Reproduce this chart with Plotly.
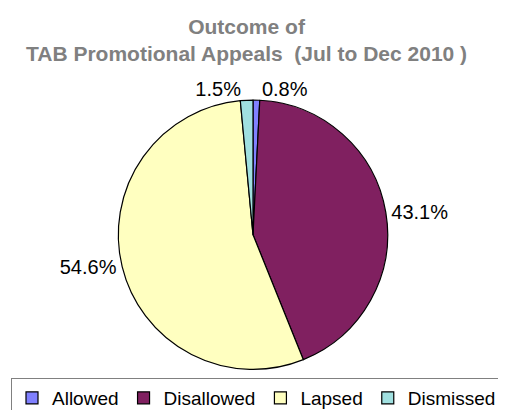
import plotly.graph_objects as go

labels = ["Allowed", "Disallowed", "Lapsed", "Dismissed"]
values = [0.8, 43.1, 54.6, 1.5]
colors = ["#8080FF", "#802060", "#FFFFC0", "#A0E0E0"]
title_lines = ["Outcome of", "TAB Promotional Appeals  (Jul to Dec 2010 )"]

W, H = 506, 410
cx, cy, r = 245, 229, 136
FONT = "Liberation Sans, Arial, sans-serif"

fig = go.Figure(go.Pie(
    labels=labels, values=values, sort=False, direction="clockwise", rotation=0,
    marker=dict(colors=colors, line=dict(color="black", width=1.2)),
    texttemplate="%{value:.1f}%", textposition="outside",
    textfont=dict(family=FONT, size=20, color="black"),
    domain=dict(x=[(cx - r) / W, (cx + r) / W], y=[(H - cy - r) / H, (H - cy + r) / H]),
    hoverinfo="label+percent",
))
fig.add_annotation(
    text="<b>" + "<br>".join(title_lines) + "</b>",
    xref="paper", yref="paper", x=238 / W, y=1 - 5 / H, xanchor="center", yanchor="top",
    showarrow=False, font=dict(family=FONT, size=21, color="#808080"),
)
fig.update_layout(
    width=W, height=H, margin=dict(l=0, r=0, t=0, b=0),
    paper_bgcolor="white", plot_bgcolor="white",
    legend=dict(orientation="h", x=3 / W, xanchor="left", y=1 - 374 / H, yanchor="top",
                bordercolor="#808080", borderwidth=1,
                font=dict(family=FONT, size=19, color="black"),
                itemwidth=30, tracegroupgap=0),
    showlegend=True,
)
fig.write_html("out.html")
